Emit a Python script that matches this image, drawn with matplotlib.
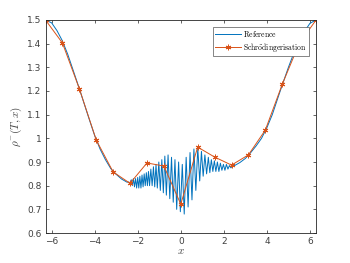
import numpy as np
import matplotlib
matplotlib.use("Agg")
import matplotlib.pyplot as plt

plt.rcParams['mathtext.fontset'] = 'cm'

# smooth parts of the reference curve
left_x = [-6.283, -6.0, -5.75, -5.5, -5.25, -5.0, -4.712, -4.5, -4.25, -4.0,
          -3.75, -3.5, -3.25, -3.0, -2.75, -2.5]
left_y = [1.500, 1.488, 1.455, 1.412, 1.355, 1.288, 1.210, 1.150, 1.080, 1.012,
          0.955, 0.910, 0.872, 0.848, 0.828, 0.815]

# oscillating middle part: alternating peaks and troughs
osc_x = [-2.40, -2.35, -2.30, -2.25, -2.20, -2.15, -2.10, -2.05, -2.00, -1.95,
         -1.90, -1.85, -1.80, -1.75, -1.70, -1.65, -1.60, -1.55, -1.50, -1.45,
         -1.39, -1.33, -1.27, -1.21, -1.15, -1.09, -1.02, -0.95, -0.88, -0.81,
         -0.74, -0.67, -0.59, -0.51, -0.43, -0.35, -0.27, -0.19, -0.10, -0.02,
         0.07, 0.16, 0.25, 0.34, 0.43, 0.52, 0.61, 0.70, 0.79, 0.88,
         0.96, 1.04, 1.12, 1.20, 1.28, 1.35, 1.42, 1.49, 1.56, 1.63,
         1.70, 1.77, 1.84, 1.91, 1.98, 2.05, 2.12, 2.19, 2.26, 2.33, 2.40]
osc_y = [0.815, 0.805, 0.825, 0.800, 0.830, 0.795, 0.830, 0.790, 0.835, 0.790,
         0.840, 0.790, 0.845, 0.795, 0.850, 0.800, 0.855, 0.800, 0.860, 0.800,
         0.870, 0.800, 0.880, 0.795, 0.890, 0.790, 0.900, 0.780, 0.910, 0.770,
         0.925, 0.760, 0.930, 0.745, 0.920, 0.730, 0.910, 0.700, 0.900, 0.690,
         0.890, 0.680, 0.920, 0.710, 0.940, 0.740, 0.955, 0.780, 0.960, 0.820,
         0.945, 0.840, 0.930, 0.850, 0.920, 0.855, 0.910, 0.860, 0.905, 0.860,
         0.900, 0.860, 0.895, 0.865, 0.890, 0.865, 0.890, 0.870, 0.885, 0.875,
         0.885]

right_x = [2.5, 2.75, 3.0, 3.25, 3.5, 3.75, 4.0, 4.25, 4.5, 4.712, 5.0, 5.25,
           5.5, 5.75, 6.0, 6.283]
right_y = [0.885, 0.898, 0.915, 0.940, 0.968, 1.000, 1.045, 1.100, 1.168, 1.225,
           1.300, 1.360, 1.410, 1.452, 1.486, 1.500]

# Schrodingerisation solution at x = -2pi + k*pi/4
schr_x = np.arange(-8, 9) * np.pi / 4
schr_y = [1.500, 1.403, 1.210, 0.993, 0.858, 0.810, 0.896, 0.883, 0.722,
          0.963, 0.921, 0.887, 0.930, 1.035, 1.228, 1.400, 1.500]

ref_x = left_x + osc_x + right_x
ref_y = left_y + osc_y + right_y

fig = plt.figure(figsize=(3.5, 2.63), dpi=100)
ax = fig.add_axes([0.13, 0.114, 0.773, 0.81])

ax.plot(ref_x, ref_y, color='#0072BD', lw=0.7, label=r'$\mathrm{Reference}$')
ax.plot(schr_x, schr_y, color='#D95319', lw=0.7, marker=(6, 2, 0), ms=4,
        markeredgewidth=0.7, label=r'$\mathrm{Schr\ddot{o}dingerisation}$')

ax.set_xlim(-2 * np.pi, 2 * np.pi)
ax.set_ylim(0.6, 1.5)
ax.set_xticks([-6, -4, -2, 0, 2, 4, 6])
ax.set_yticks([0.6, 0.7, 0.8, 0.9, 1.0, 1.1, 1.2, 1.3, 1.4, 1.5])
ax.set_yticklabels(['0.6', '0.7', '0.8', '0.9', '1', '1.1', '1.2', '1.3', '1.4', '1.5'])
ax.tick_params(direction='in', length=2.5, width=0.5, labelsize=6.5,
               colors='#262626', labelcolor='#404040', top=True, right=True, pad=3)
for s in ax.spines.values():
    s.set_linewidth(0.6)
    s.set_color('#262626')

ax.set_xlabel(r'$x$', fontsize=8, labelpad=0, color='#404040')
ax.set_ylabel(r'$\rho^{-}(T,x)$', fontsize=8, labelpad=2, color='#404040')

leg = ax.legend(loc='upper right', fontsize=5.5, fancybox=False, framealpha=1,
                edgecolor='#555555', borderpad=0.3, labelspacing=0.25,
                handlelength=3.4, handletextpad=0.3, borderaxespad=0.9)
leg.get_frame().set_linewidth(0.5)

fig.savefig('out.png', dpi=100)
